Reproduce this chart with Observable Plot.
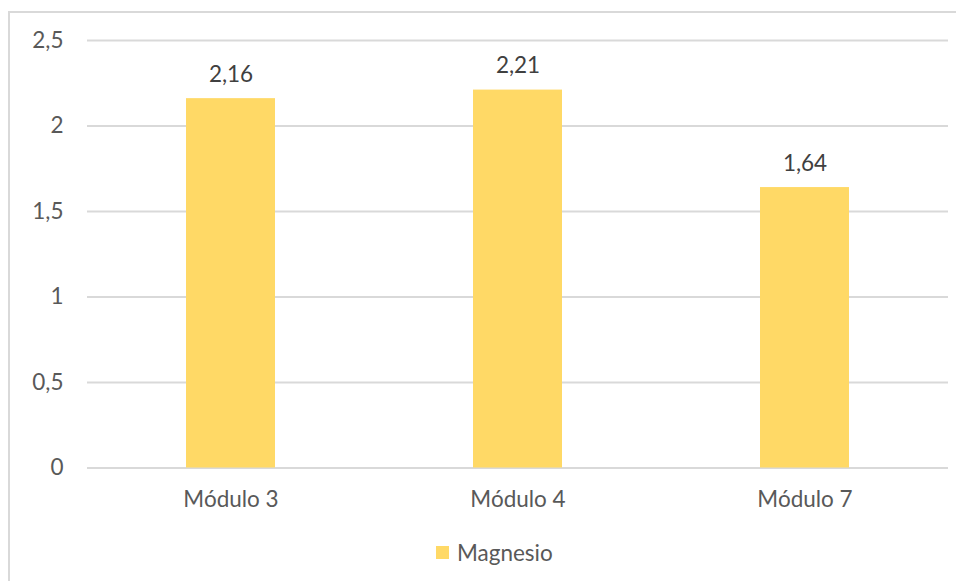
<!DOCTYPE html>
<html>
<head>
<meta charset="utf-8">
<script src="https://cdn.jsdelivr.net/npm/d3@7"></script>
<script src="https://cdn.jsdelivr.net/npm/@observablehq/plot@0.6"></script>
<style>
  html, body { margin: 0; padding: 0; background: #fff; }
  #wrap { position: relative; width: 956px; height: 581px; overflow: hidden; font-family: Lato, "Open Sans", sans-serif; }
  #frame { position: absolute; left: 8px; top: 11px; width: 960px; height: 580px; border-top: 2px solid #d9d9d9; border-left: 2px solid #d9d9d9; box-sizing: border-box; }
  #chart { position: absolute; left: 0; top: 0; }
  #legend { position: absolute; left: 436px; top: 536px; }
  #legend svg { margin-right: 8px !important; }
</style>
</head>
<body>
<div id="wrap">
  <div id="frame"></div>
  <div id="chart"></div>
  <div id="legend"></div>
</div>
<script>
const categories = ["Módulo 3", "Módulo 4", "Módulo 7"];
const magnesio = [2.16, 2.21, 1.64];
const seriesName = "Magnesio";
const yTicks = [0, 0.5, 1, 1.5, 2, 2.5];
const barColor = "#FFD966";

const data = categories.map((c, i) => ({ modulo: c, valor: magnesio[i] }));
const fmt = v => String(v).replace(".", ",");

const chart = Plot.plot({
  width: 956,
  height: 525,
  marginLeft: 87,
  marginRight: 8,
  marginTop: 40,
  marginBottom: 57.5,
  style: { fontFamily: "Lato, 'Open Sans', sans-serif", fontSize: "22.5px", color: "#595959", background: "transparent", overflow: "visible" },
  x: { domain: categories, paddingInner: 0.69, paddingOuter: 0.345, label: null, tickSize: 0, tickPadding: 23 },
  y: { domain: [0, 2.5], ticks: yTicks, label: null, tickSize: 0, tickPadding: 24, tickFormat: fmt },
  marks: [
    Plot.gridY(yTicks, { stroke: "#d9d9d9", strokeOpacity: 1, strokeWidth: 2 }),
    Plot.barY(data, { x: "modulo", y: "valor", fill: barColor }),
    Plot.text(data, { x: "modulo", y: "valor", text: d => fmt(d.valor), dy: -24, fill: "#404040", fontSize: 22.5 })
  ]
});
document.getElementById("chart").appendChild(chart);

const legend = Plot.legend({
  color: { type: "ordinal", domain: [seriesName], range: [barColor] },
  swatchSize: 13,
  style: { fontFamily: "Lato, 'Open Sans', sans-serif", fontSize: "22.5px", color: "#595959" }
});
document.getElementById("legend").appendChild(legend);
</script>
</body>
</html>
